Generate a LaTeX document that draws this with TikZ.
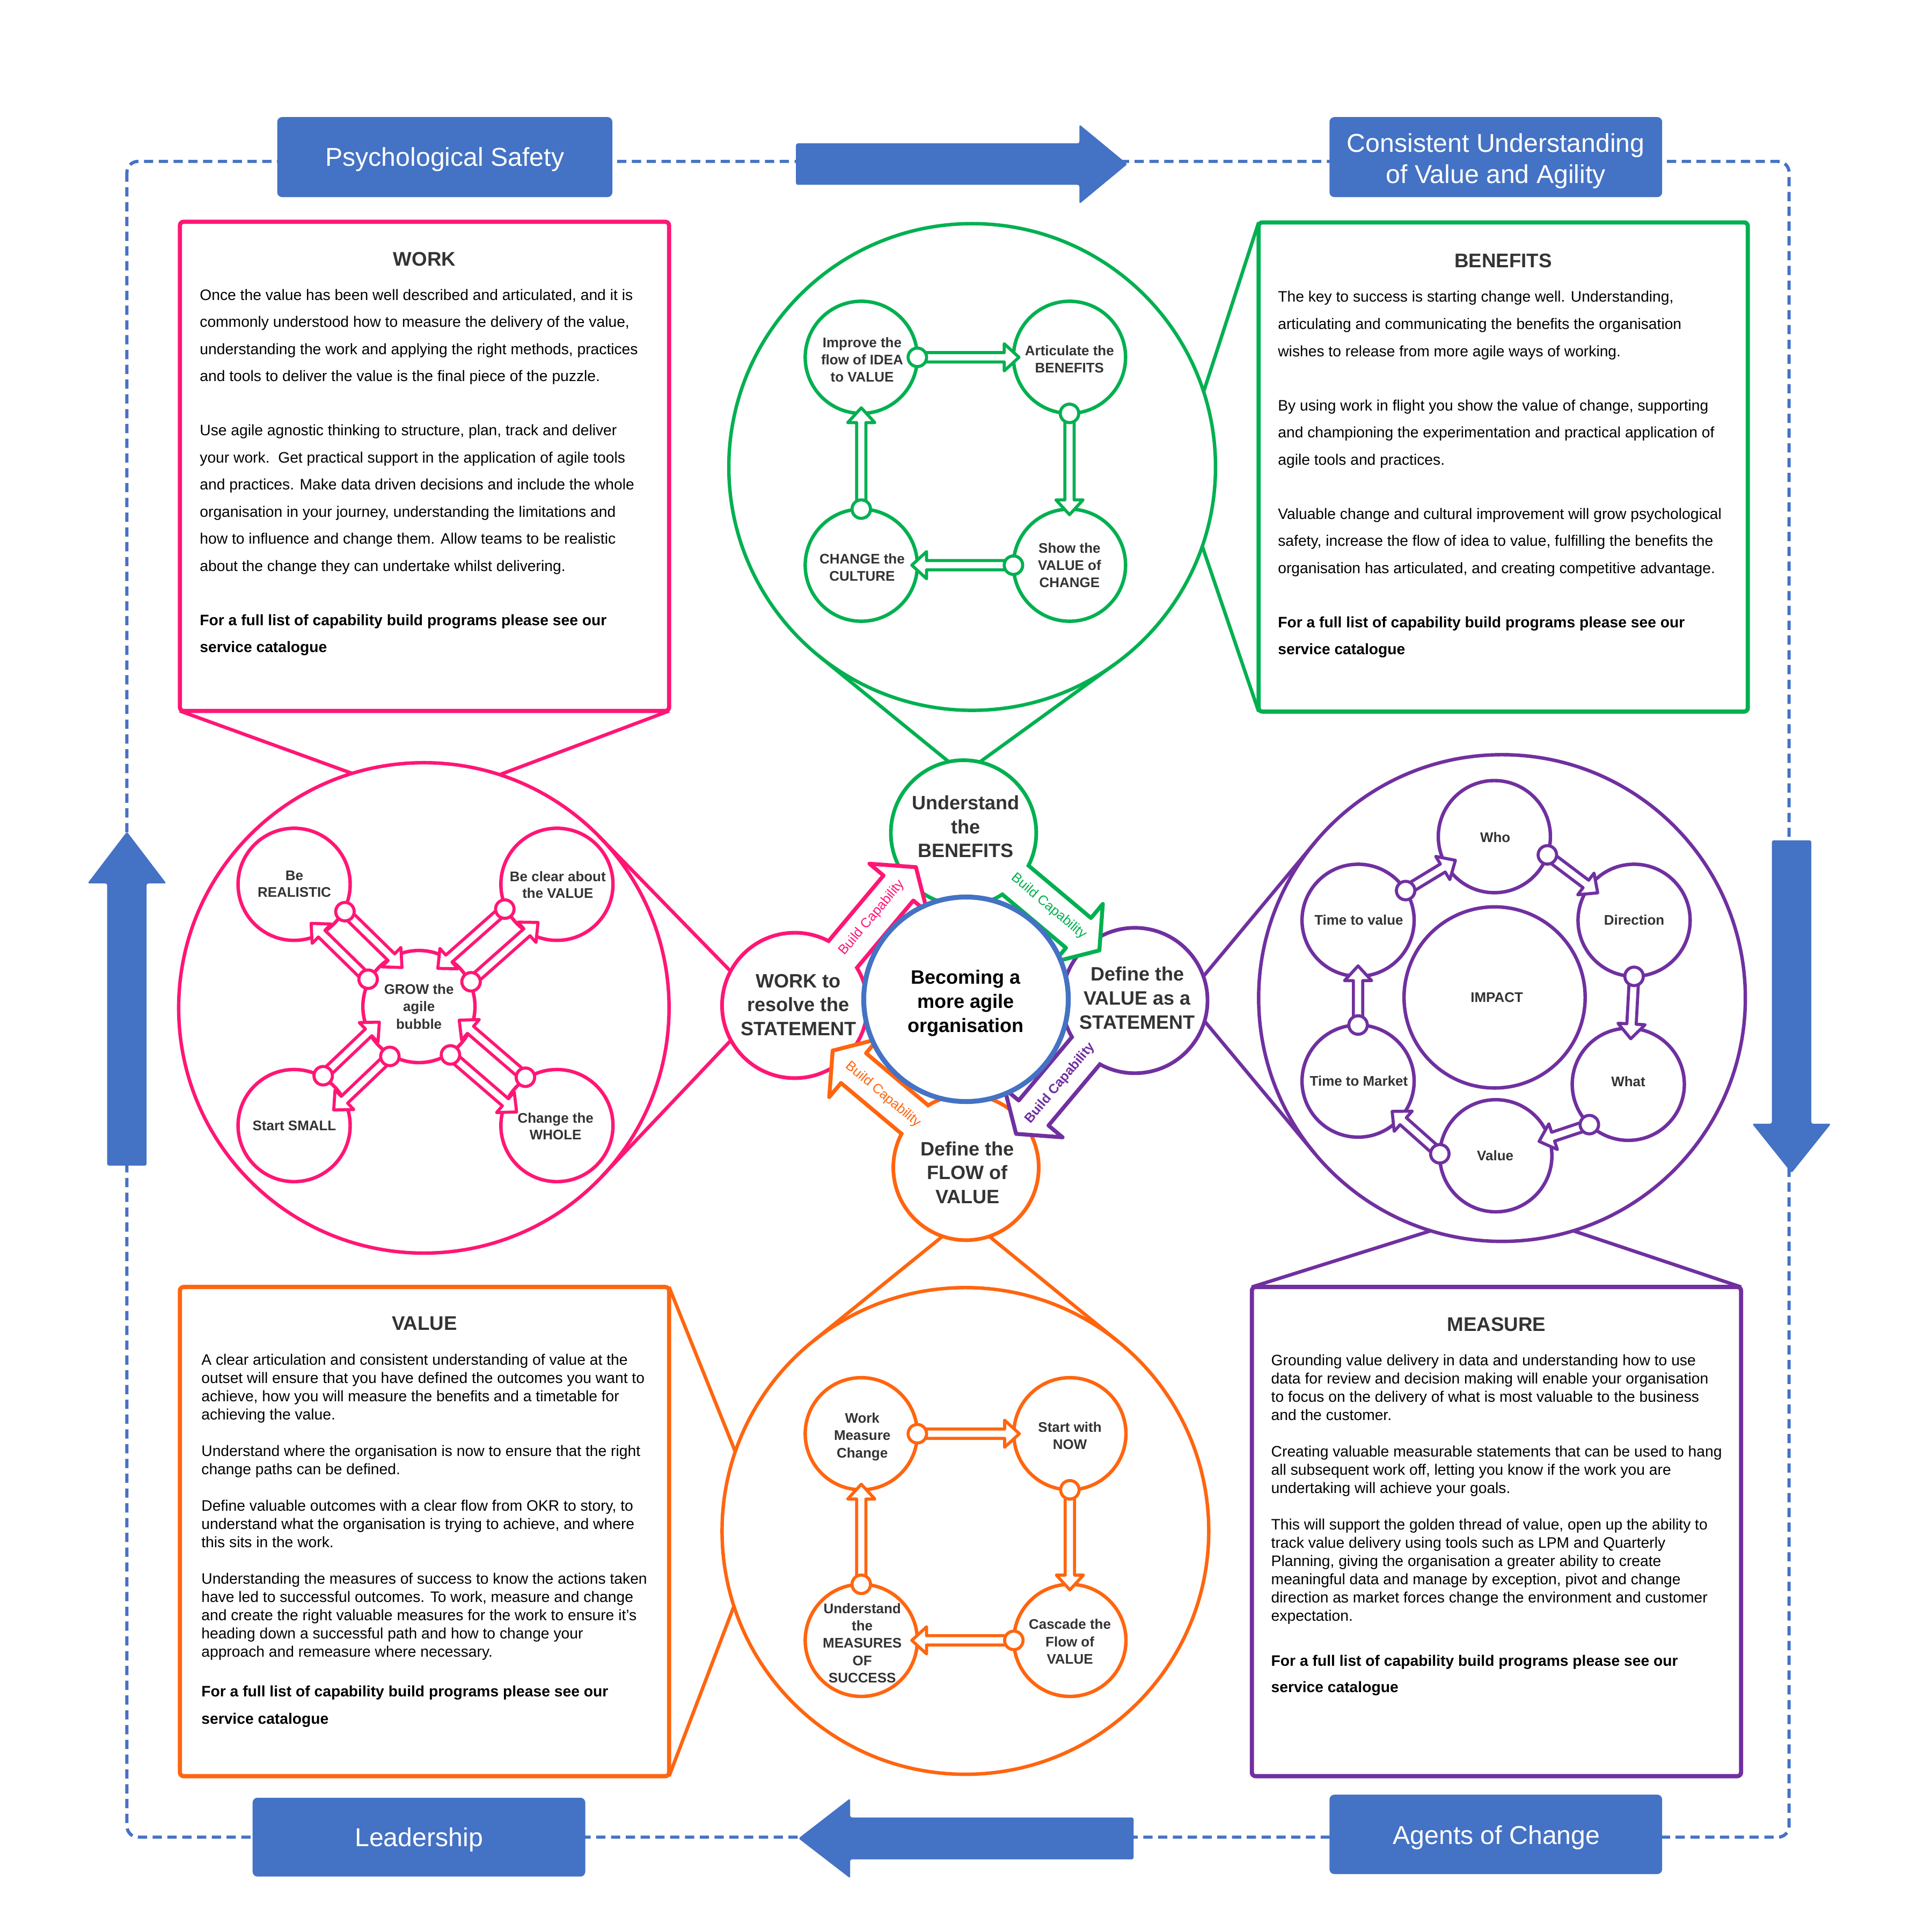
\documentclass[tikz,border=0pt]{standalone}
\usepackage{fontspec}
\setmainfont{Liberation Sans}
\usetikzlibrary{calc}
\definecolor{cblue}{HTML}{4472C4}
\definecolor{cpink}{HTML}{FF1675}
\definecolor{cgreen}{HTML}{00B050}
\definecolor{cpurple}{HTML}{7030A0}
\definecolor{corange}{HTML}{FF650F}
\definecolor{ink}{HTML}{333333}
\newcommand{\fsz}[2]{\fontsize{#1}{#2}\selectfont}
% hollow connector: colour, start coordinate, tip coordinate
\newcommand{\harrow}[3]{%
  \draw[hollow,draw=#1]
    ($(#2)!3.8pt!90:(#3)$) --
    ($(#3)!12pt!(#2)!3.8pt!-90:(#2)$) --
    ($(#3)!12pt!(#2)!11pt!-90:(#2)$) --
    (#3) --
    ($(#3)!12pt!(#2)!11pt!90:(#2)$) --
    ($(#3)!12pt!(#2)!3.8pt!90:(#2)$) --
    ($(#2)!3.8pt!-90:(#3)$) -- cycle;
  \draw[hollow,draw=#1] (#2) circle[radius=7.5pt];
}
% colour, start anchor, target node, inset, tip name
\newcommand{\conn}[5]{%
  \coordinate (#5) at ($(#3.center)!#4!(#2)$);
  \harrow{#1}{#2}{#5}}
% corner node, centre node, side, opposite side
\newcommand{\pinkpair}[4]{%
  \coordinate (#1-a-s) at ($(#1.center)!45pt!(#2.center)!13pt!#3:(#2.center)$);
  \coordinate (#1-a-t) at ($(#2.center)!32pt!(#1.center)!13pt!#4:(#1.center)$);
  \coordinate (#1-b-s) at ($(#2.center)!45pt!(#1.center)!13pt!#3:(#1.center)$);
  \coordinate (#1-b-t) at ($(#1.center)!32pt!(#2.center)!13pt!#4:(#2.center)$);
  \harrow{cpink}{#1-a-s}{#1-a-t}
  \harrow{cpink}{#1-b-s}{#1-b-t}}
% build capability arrow: colour, rotation, source node, text rotation, font, label name
\newcommand{\bcarrow}[6]{%
 \begin{scope}[rotate around={#2:(784,812)}]
  \fill[white,shift={(684.6,773.8)},rotate=50]
    (-45,-15.8) -- (69.3,-15.8) -- (69.3,-30.7) -- (91.4,0) -- (69.3,30.7) -- (69.3,15.8) -- (-45,15.8) -- cycle;
  \begin{scope}[even odd rule]
   \clip (-400,-400) -- (2000,-400) -- (2000,2000) -- (-400,2000) -- cycle (#3.center) circle[radius=57.5pt];
   \draw[#1,line width=3.2pt,line join=round,shift={(684.6,773.8)},rotate=50]
    (-45,-15.8) -- (69.3,-15.8) -- (69.3,-30.7) -- (91.4,0) -- (69.3,30.7) -- (69.3,15.8) -- (-45,15.8);
  \end{scope}
  \begin{scope}[shift={(684.6,773.8)},rotate=50]
   \node[transform shape,rotate=#4,text=#1,font=#5,inner sep=0pt] (#6) at (37,-1) {Build Capability};
  \end{scope}
 \end{scope}}
\begin{document}
\begin{tikzpicture}[x=1pt,y=-1pt,
  bigc/.style={circle,draw,line width=2.8pt,fill=white,minimum size=395pt,inner sep=0pt,outer sep=0pt},
  sat/.style={circle,draw,line width=3pt,fill=white,minimum size=118pt,inner sep=0pt,outer sep=0pt},
  smc/.style={circle,draw,line width=2.8pt,fill=white,minimum size=91pt,inner sep=0pt,outer sep=0pt},
  tbox/.style={rectangle,draw,line width=3.4pt,fill=white,rounded corners=3pt,minimum width=397pt,minimum height=397pt,inner sep=0pt,outer sep=0pt},
  bluebox/.style={rectangle,fill=cblue,rounded corners=4pt,inner sep=0pt,outer sep=0pt},
  bluetxt/.style={text=white,font=\fsz{21}{25.4},inner sep=0pt,anchor=base},
  hollow/.style={line width=2.5pt,fill=white,line join=round},
  body/.style={font=\fsz{12.3}{22},align=left,anchor=north west,inner sep=0pt,text=black},
  bodyb/.style={body,font=\bfseries\fsz{12.3}{22}},
  ttl/.style={font=\bfseries\fsz{16}{19},text=ink,anchor=base,inner sep=0pt},
  smt/.style={font=\bfseries\fsz{11.3}{13.9},text=ink,align=center,anchor=north,inner sep=0pt},
  smb/.style={font=\bfseries\fsz{11.3}{13.9},text=ink,anchor=base,inner sep=0pt},
  satt/.style={font=\bfseries\fsz{15.7}{19.4},text=ink,align=center,anchor=north,inner sep=0pt},
  ptr/.style={line width=2.8pt}]
\useasboundingbox (0,0) rectangle (1568,1568);
\fill[white] (0,0) rectangle (1568,1568);

% ---------- dashed frame ----------
\draw[cblue,line width=2.6pt,dash pattern=on 7.5pt off 4.5pt,rounded corners=9pt] (103,131) rectangle (1452,1491);

% ---------- big blue arrows ----------
\fill[cblue,rounded corners=1.5pt] (646,116.4) -- (876,116.4) -- (876,101) -- (915,133.2) -- (876,165.5) -- (876,150) -- (646,150) -- cycle;
\fill[cblue,rounded corners=1.5pt] (920,1475) -- (690,1475) -- (690,1459.5) -- (648,1492) -- (690,1524.4) -- (690,1509) -- (920,1509) -- cycle;
\fill[cblue,rounded corners=1.5pt] (87,946) -- (87,717) -- (71,717) -- (103,675) -- (135,717) -- (119,717) -- (119,946) -- cycle;
\fill[cblue,rounded corners=1.5pt] (1438,682) -- (1438,912) -- (1422,912) -- (1454,952) -- (1486,912) -- (1470,912) -- (1470,682) -- cycle;

% ---------- blue labels ----------
\node[bluebox,minimum width=272pt,minimum height=65pt] (psybox) at (361,127.5) {};
\node[bluetxt] (psytxt) at (361,135) {Psychological Safety};
\node[bluebox,minimum width=270pt,minimum height=65pt] (conbox) at (1214,127.5) {};
\node[bluetxt,anchor=north,align=center] (contxt) at (1214,108.1) {Consistent Understanding\\of Value and Agility};
\node[bluebox,minimum width=270pt,minimum height=64pt] (leadbox) at (340,1491) {};
\node[bluetxt] (leadtxt) at (340,1498.3) {Leadership};
\node[bluebox,minimum width=270pt,minimum height=64.5pt] (agbox) at (1214,1488.75) {};
\node[bluetxt] (agtxt) at (1214.5,1496.8) {Agents of Change};

% ---------- text boxes ----------
\node[tbox,draw=cpink] (workbox) at (344.5,378.5) {};
\node[tbox,draw=cgreen] (benbox) at (1220,379) {};
\node[tbox,draw=corange] (valbox) at (344.5,1243) {};
\node[tbox,draw=cpurple] (measbox) at (1214.5,1243) {};

\node[ttl] (worktitle) at (344.5,215.6) {WORK};
\node[body] (work1) at (162,234.5) {Once the value has been well described and articulated, and it is\\commonly understood how to measure the delivery of the value,\\understanding the work and applying the right methods, practices\\and tools to deliver the value is the final piece of the puzzle.};
\node[body] (work2) at (162,344.5) {Use agile agnostic thinking to structure, plan, track and deliver\\your work.\ \ Get practical support in the application of agile tools\\and practices. Make data driven decisions and include the whole\\organisation in your journey, understanding the limitations and\\how to influence and change them. Allow teams to be realistic\\about the change they can undertake whilst delivering.};
\node[bodyb] (work3) at (162,498.5) {For a full list of capability build programs please see our\\service catalogue};

\node[ttl] (bentitle) at (1220,217) {BENEFITS};
\node[body] (ben1) at (1037,236.1) {The key to success is starting change well. Understanding,\\articulating and communicating the benefits the organisation\\wishes to release from more agile ways of working.};
\node[body] (ben2) at (1037,324.1) {By using work in flight you show the value of change, supporting\\and championing the experimentation and practical application of\\agile tools and practices.};
\node[body] (ben3) at (1037,412.1) {Valuable change and cultural improvement will grow psychological\\safety, increase the flow of idea to value, fulfilling the benefits the\\organisation has articulated, and creating competitive advantage.};
\node[bodyb] (ben4) at (1037,500.1) {For a full list of capability build programs please see our\\service catalogue};

\node[ttl] (valtitle) at (344.5,1079.6) {VALUE};
\node[body,font=\fsz{12.3}{14.8}] (val1) at (163.3,1098.7) {A clear articulation and consistent understanding of value at the\\outset will ensure that you have defined the outcomes you want to\\achieve, how you will measure the benefits and a timetable for\\achieving the value.};
\node[body,font=\fsz{12.3}{14.8}] (val2) at (163.3,1172.7) {Understand where the organisation is now to ensure that the right\\change paths can be defined.};
\node[body,font=\fsz{12.3}{14.8}] (val3) at (163.3,1217.1) {Define valuable outcomes with a clear flow from OKR to story, to\\understand what the organisation is trying to achieve, and where\\this sits in the work.};
\node[body,font=\fsz{12.3}{14.8}] (val4) at (163.3,1276.3) {Understanding the measures of success to know the actions taken\\have led to successful outcomes. To work, measure and change\\and create the right valuable measures for the work to ensure it’s\\heading down a successful path and how to change your\\approach and remeasure where necessary.};
\node[bodyb,font=\bfseries\fsz{12.3}{22.4}] (val5) at (163.3,1367.7) {For a full list of capability build programs please see our\\service catalogue};

\node[ttl] (meastitle) at (1214.5,1080.4) {MEASURE};
\node[body,font=\fsz{12.3}{14.8}] (meas1) at (1031.5,1099.1) {Grounding value delivery in data and understanding how to use\\data for review and decision making will enable your organisation\\to focus on the delivery of what is most valuable to the business\\and the customer.};
\node[body,font=\fsz{12.3}{14.8}] (meas2) at (1031.5,1173.1) {Creating valuable measurable statements that can be used to hang\\all subsequent work off, letting you know if the work you are\\undertaking will achieve your goals.};
\node[body,font=\fsz{12.3}{14.8}] (meas3) at (1031.5,1232.3) {This will support the golden thread of value, open up the ability to\\track value delivery using tools such as LPM and Quarterly\\Planning, giving the organisation a greater ability to create\\meaningful data and manage by exception, pivot and change\\direction as market forces change the environment and customer\\expectation.};
\node[bodyb,font=\bfseries\fsz{12.3}{21.4}] (meas4) at (1031.5,1343.1) {For a full list of capability build programs please see our\\service catalogue};

% ---------- big circles ----------
\node[bigc,draw=cpink,minimum size=398pt] (pinkbig) at (344,818) {};
\node[bigc,draw=cgreen] (greenbig) at (789,379) {};
\node[bigc,draw=cpurple] (purplebig) at (1219,810) {};
\node[bigc,draw=corange] (orangebig) at (783.5,1242.5) {};

% box pointers
\draw[cpink,ptr] (workbox.south west) -- (pinkbig.107.5);
\draw[cpink,ptr] (workbox.south east) -- (pinkbig.72.5);
\draw[cgreen,ptr] (benbox.north west) -- (greenbig.18);
\draw[cgreen,ptr] (benbox.south west) -- (greenbig.-19);
\draw[corange,ptr] (valbox.north east) -- (orangebig.161.7);
\draw[corange,ptr] (valbox.south east) -- (orangebig.198.9);
\draw[cpurple,ptr] (measbox.north west) -- (purplebig.-107.4);
\draw[cpurple,ptr] (measbox.north east) -- (purplebig.-73.4);

% ---------- green inner ----------
\node[smc,draw=cgreen] (imp) at (699,290) {};
\node[smc,draw=cgreen] (art) at (868,290) {};
\node[smc,draw=cgreen] (cul) at (699,458.7) {};
\node[smc,draw=cgreen] (shw) at (868,458.7) {};
\conn{cgreen}{imp.east}{art}{41pt}{gc1}
\conn{cgreen}{art.south}{shw}{41pt}{gc2}
\conn{cgreen}{shw.west}{cul}{41pt}{gc3}
\conn{cgreen}{cul.north}{imp}{41pt}{gc4}
\node[smt] (imptxt) at (699.7,273.6) {Improve the\\flow of IDEA\\to VALUE};
\node[smt] (arttxt) at (868,280.2) {Articulate the\\BENEFITS};
\node[smt] (cultxt) at (699.7,449.1) {CHANGE the\\CULTURE};
\node[smt] (shwtxt) at (868,440.6) {Show the\\VALUE of\\CHANGE};

% ---------- orange inner ----------
\node[smc,draw=corange] (wmc) at (699,1163.6) {};
\node[smc,draw=corange] (swn) at (868.3,1163.6) {};
\node[smc,draw=corange] (ums) at (699,1331.3) {};
\node[smc,draw=corange] (cfv) at (868.3,1331.3) {};
\conn{corange}{wmc.east}{swn}{41pt}{oc1}
\conn{corange}{swn.south}{cfv}{41pt}{oc2}
\conn{corange}{cfv.west}{ums}{41pt}{oc3}
\conn{corange}{ums.north}{wmc}{41pt}{oc4}
\node[smt,font=\bfseries\fsz{11.3}{14.1}] (wmctxt) at (699.8,1146.5) {Work\\Measure\\Change};
\node[smt,font=\bfseries\fsz{11.3}{14.1}] (swntxt) at (868.3,1153.9) {Start with\\NOW};
\node[smt,font=\bfseries\fsz{11.3}{14.1}] (umstxt) at (699.8,1300.9) {Understand\\the\\MEASURES\\OF\\SUCCESS};
\node[smt,font=\bfseries\fsz{11.3}{14.1}] (cfvtxt) at (868.3,1313.9) {Cascade the\\Flow of\\VALUE};

% ---------- pink inner ----------
\node[smc,draw=cpink] (rea) at (238.7,717.7) {};
\node[smc,draw=cpink] (clv) at (452,717.7) {};
\node[smc,draw=cpink] (sml) at (238.7,913.5) {};
\node[smc,draw=cpink] (whl) at (452,913.5) {};
\node[smc,draw=cpink] (grw) at (340,816.9) {};
\pinkpair{rea}{grw}{90}{-90}
\pinkpair{sml}{grw}{90}{-90}
\pinkpair{clv}{grw}{-90}{90}
\pinkpair{whl}{grw}{-90}{90}
\node[smt,font=\bfseries\fsz{11.3}{13.6}] (reatxt) at (238.9,706.5) {Be\\REALISTIC};
\node[smt,font=\bfseries\fsz{11.3}{13.6}] (clvtxt) at (452.7,706.9) {Be clear about\\the VALUE};
\node[smt,font=\bfseries\fsz{11.3}{14.1}] (grwtxt) at (340,798.4) {GROW the\\agile\\bubble};
\node[smb] (smltxt) at (238.9,917.4) {Start SMALL};
\node[smt,font=\bfseries\fsz{11.3}{13.6}] (whltxt) at (450.9,902.9) {Change the\\WHOLE};

% ---------- purple inner ----------
\node[smc,draw=cpurple] (who) at (1212.8,679) {};
\node[smc,draw=cpurple] (ttv) at (1102.2,746.9) {};
\node[smc,draw=cpurple] (dir) at (1326.2,746.9) {};
\node[smc,draw=cpurple] (ttm) at (1102.2,877.4) {};
\node[smc,draw=cpurple] (wht) at (1321.5,880) {};
\node[smc,draw=cpurple] (val) at (1214,938) {};
\node[smc,draw=cpurple,minimum size=147pt] (impact) at (1213,809.5) {};
\conn{cpurple}{ttv.32}{who}{37pt}{pc1}
\conn{cpurple}{who.-19}{dir}{37pt}{pc2}
\conn{cpurple}{dir.south}{wht}{37pt}{pc3}
\conn{cpurple}{wht.-134}{val}{37pt}{pc4}
\conn{cpurple}{val.178}{ttm}{37pt}{pc5}
\conn{cpurple}{ttm.north}{ttv}{37pt}{pc6}
\node[smb] (whotxt) at (1213.5,683.4) {Who};
\node[smb] (ttvtxt) at (1102.8,750.8) {Time to value};
\node[smb] (dirtxt) at (1326.3,750.8) {Direction};
\node[smb] (imptxt2) at (1214.8,813.4) {IMPACT};
\node[smb] (ttmtxt) at (1102.8,881.3) {Time to Market};
\node[smb] (whttxt) at (1321.5,881.8) {What};
\node[smb] (valtxt) at (1213.5,941.9) {Value};

% ---------- pointers from satellites ----------
\coordinate (apxW) at (620,816);
\coordinate (apxU) at (782,628);
\coordinate (apxV) at (962,810);
\coordinate (apxF) at (784,988);
\draw[cpink,ptr] (tangent cs:node=pinkbig,point={(apxW)},solution=1) -- (apxW) -- (tangent cs:node=pinkbig,point={(apxW)},solution=2);
\draw[cgreen,ptr] (tangent cs:node=greenbig,point={(apxU)},solution=1) -- (apxU) -- (tangent cs:node=greenbig,point={(apxU)},solution=2);
\draw[cpurple,ptr] (tangent cs:node=purplebig,point={(apxV)},solution=1) -- (apxV) -- (tangent cs:node=purplebig,point={(apxV)},solution=2);
\draw[corange,ptr] (tangent cs:node=orangebig,point={(apxF)},solution=1) -- (apxF) -- (tangent cs:node=orangebig,point={(apxF)},solution=2);

% ---------- satellites ----------
\node[sat,draw=cgreen] (und) at (782,676) {};
\node[sat,draw=cpink] (wrk) at (645,816) {};
\node[sat,draw=cpurple] (dva) at (921,812) {};
\node[sat,draw=corange] (dfv) at (784,947.5) {};

% ---------- build capability arrows ----------
\bcarrow{cpink}{0}{wrk}{0}{\fsz{11}{13}}{bc1}
\bcarrow{cgreen}{-90}{und}{0}{\fsz{11}{13}}{bc2}
\bcarrow{cpurple}{-180}{dva}{180}{\bfseries\fsz{10.8}{13}}{bc3}
\bcarrow{corange}{-270}{dfv}{180}{\fsz{11}{13}}{bc4}

% ---------- core ----------
\node[circle,draw=cblue,line width=4pt,fill=white,minimum size=166pt,inner sep=0pt,outer sep=0pt] (core) at (784,811) {};

\node[satt] (undtxt) at (783.8,645.5) {Understand\\the\\BENEFITS};
\node[satt] (wrktxt) at (648,790.4) {WORK to\\resolve the\\STATEMENT};
\node[satt] (dvatxt) at (923,784.6) {Define the\\VALUE as a\\STATEMENT};
\node[satt] (dfvtxt) at (785.2,926.3) {Define the\\FLOW of\\VALUE};
\node[satt,text=black] (coretxt) at (783.8,787.2) {Becoming a\\more agile\\organisation};
\end{tikzpicture}
\end{document}
